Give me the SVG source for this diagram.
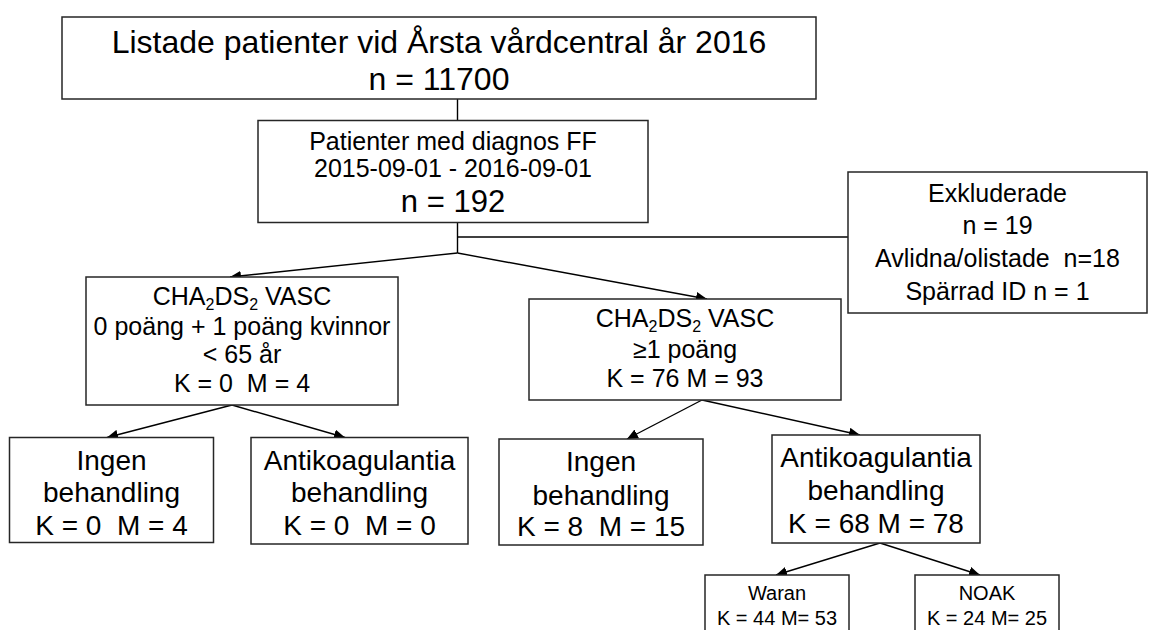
<svg xmlns="http://www.w3.org/2000/svg" width="1156" height="630" viewBox="0 0 1156 630">
<style>
.box{fill:#fff;stroke:#262626;stroke-width:1.5}
.t{font-family:"Liberation Sans",Arial,sans-serif;fill:#000;text-anchor:middle}
.f32{font-size:32px}
.f25{font-size:25px}
.f28{font-size:28px}
.f20{font-size:20px}
.c{fill:none;stroke:#000;stroke-width:1.4}
</style>
<defs>
<marker id="arr" markerUnits="userSpaceOnUse" markerWidth="12" markerHeight="10" refX="11" refY="5" orient="auto">
<path d="M0,0 L11,5 L0,10 Z" fill="#000"/>
</marker>
</defs>
<g id="connectors">
<line class="c" x1="457.5" y1="99" x2="457.5" y2="120.5"/>
<polyline class="c" points="457.5,222.5 457.5,253"/>
<line class="c" x1="457.5" y1="237" x2="848" y2="237"/>
<line class="c" x1="457.5" y1="253" x2="230" y2="277" marker-end="url(#arr)"/>
<line class="c" x1="457.5" y1="253" x2="707" y2="299" marker-end="url(#arr)"/>
<line class="c" x1="232" y1="405" x2="107" y2="437.5" marker-end="url(#arr)"/>
<line class="c" x1="232" y1="405" x2="345" y2="437.5" marker-end="url(#arr)"/>
<line class="c" x1="702" y1="400" x2="627" y2="439" marker-end="url(#arr)"/>
<line class="c" x1="702" y1="400" x2="860" y2="435" marker-end="url(#arr)"/>
<line class="c" x1="880" y1="543" x2="776" y2="575" marker-end="url(#arr)"/>
<line class="c" x1="880" y1="543" x2="980" y2="575" marker-end="url(#arr)"/>
</g>
<g id="n-listade">
<rect class="box" x="62" y="17" width="754" height="82"/>
<text class="t f32" x="439" y="53">Listade patienter vid Årsta vårdcentral år 2016</text>
<text class="t f32" x="439" y="90">n = 11700</text>
</g>
<g id="n-ff">
<rect class="box" x="258" y="120.5" width="390" height="102"/>
<text class="t f25" x="453" y="150">Patienter med diagnos FF</text>
<text class="t f25" x="453" y="177">2015-09-01 - 2016-09-01</text>
<text class="t" style="font-size:31px" x="453" y="212">n = 192</text>
</g>
<g id="n-exkl">
<rect class="box" x="848" y="172" width="299" height="141"/>
<text class="t f25" x="997.5" y="202">Exkluderade</text>
<text class="t f25" x="997.5" y="234">n = 19</text>
<text class="t f25" x="997.5" y="267" xml:space="preserve">Avlidna/olistade  n=18</text>
<text class="t f25" x="997.5" y="300">Spärrad ID n = 1</text>
</g>
<g id="n-cha-low">
<rect class="box" x="86" y="277" width="312" height="128"/>
<text class="t f25" x="242" y="305">CHA<tspan font-size="16" dy="5">2</tspan><tspan dy="-5">DS</tspan><tspan font-size="16" dy="5">2</tspan><tspan dy="-5"> VASC</tspan></text>
<text class="t f25" x="242" y="335">0 poäng + 1 poäng kvinnor</text>
<text class="t f25" x="242" y="363">&lt; 65 år</text>
<text class="t f25" x="242" y="392" xml:space="preserve">K = 0  M = 4</text>
</g>
<g id="n-cha-high">
<rect class="box" x="529" y="299" width="312" height="101"/>
<text class="t f25" x="685" y="327">CHA<tspan font-size="16" dy="5">2</tspan><tspan dy="-5">DS</tspan><tspan font-size="16" dy="5">2</tspan><tspan dy="-5"> VASC</tspan></text>
<text class="t f25" x="685" y="358">≥1 poäng</text>
<text class="t f25" x="685" y="387">K = 76 M = 93</text>
</g>
<g id="n-ingen-low">
<rect class="box" x="9.5" y="437.5" width="204" height="105"/>
<text class="t f28" x="111.5" y="470">Ingen</text>
<text class="t f28" x="111.5" y="502">behandling</text>
<text class="t f28" x="111.5" y="535" xml:space="preserve">K = 0  M = 4</text>
</g>
<g id="n-anti-low">
<rect class="box" x="251" y="437.5" width="217" height="106.5"/>
<text class="t f28" x="359.5" y="470">Antikoagulantia</text>
<text class="t f28" x="359.5" y="502">behandling</text>
<text class="t f28" x="359.5" y="535" xml:space="preserve">K = 0  M = 0</text>
</g>
<g id="n-ingen-high">
<rect class="box" x="499" y="439" width="204" height="106"/>
<text class="t f28" x="601" y="471">Ingen</text>
<text class="t f28" x="601" y="505">behandling</text>
<text class="t f28" x="601" y="536" xml:space="preserve">K = 8  M = 15</text>
</g>
<g id="n-anti-high">
<rect class="box" x="772" y="435" width="208" height="108"/>
<text class="t f28" x="876" y="467">Antikoagulantia</text>
<text class="t f28" x="876" y="500">behandling</text>
<text class="t f28" x="876" y="533">K = 68 M = 78</text>
</g>
<g id="n-waran">
<rect class="box" x="705" y="575" width="144" height="62"/>
<text class="t f20" x="777" y="600">Waran</text>
<text class="t f20" x="777" y="625">K = 44 M= 53</text>
</g>
<g id="n-noak">
<rect class="box" x="915" y="575" width="144" height="62"/>
<text class="t f20" x="987" y="600">NOAK</text>
<text class="t f20" x="987" y="625">K = 24 M= 25</text>
</g>
</svg>
